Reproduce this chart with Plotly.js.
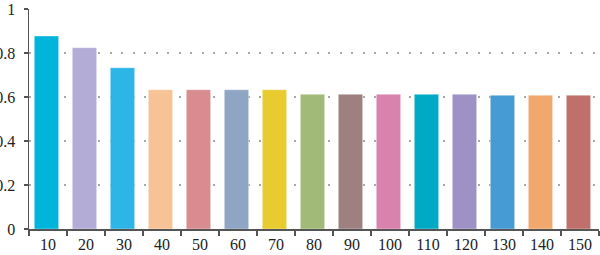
<!DOCTYPE html>
<html><head><meta charset="utf-8">
<script src="https://cdn.plot.ly/plotly-3.0.1.min.js"></script>
<style>html,body{margin:0;padding:0;background:#fff}#chart{width:600px;height:255px}</style>
</head><body><div id="chart"></div>
<script>
const categories = ["10","20","30","40","50","60","70","80","90","100","110","120","130","140","150"];
const values = [0.877,0.824,0.733,0.633,0.633,0.633,0.633,0.612,0.612,0.612,0.612,0.612,0.608,0.608,0.608];
const colors = ["#00B4DC","#B3ACD6","#2EB5E8","#F7C396","#D88C8F","#8EA5C3","#E8CB2E","#A2BA77","#9E8080","#D982AD","#00AAC4","#9D91C6","#479BD4","#F0A86C","#C0706B"];
const yTicks = [0,0.2,0.4,0.6,0.8,1];
const yTickText = ["0","0.2","0.4","0.6","0.8","1"];

Plotly.newPlot("chart", [{
  type: "bar",
  x: categories,
  y: values,
  marker: {color: colors, line: {width: 1, color: "rgba(255,255,255,0.35)"}},
  width: 0.64,
  offset: -0.36,
  hoverinfo: "none"
}], {
  width: 600, height: 255,
  margin: {l: 29, r: 1, t: 9, b: 26, pad: 0},
  paper_bgcolor: "#fff", plot_bgcolor: "#fff",
  font: {family: "'Liberation Serif', serif", size: 16, color: "#222"},
  showlegend: false,
  xaxis: {
    type: "category",
    showline: true, linecolor: "#555", linewidth: 1.5,
    ticks: "outside", tickson: "boundaries", ticklen: 5, tickcolor: "#555", tickwidth: 1.5,
    showgrid: false, zeroline: false, fixedrange: true
  },
  yaxis: {
    range: [0, 1],
    tickvals: yTicks, ticktext: yTickText,
    showline: true, linecolor: "#555", linewidth: 1.5,
    ticks: "outside", ticklen: 4, tickcolor: "#555", tickwidth: 1.5,
    ticklabelstandoff: 5,
    showgrid: true, gridcolor: "#a8a8a8", griddash: "2px,9.5px", gridwidth: 1.5,
    zeroline: false, fixedrange: true
  }
}, {staticPlot: true});
</script></body></html>
